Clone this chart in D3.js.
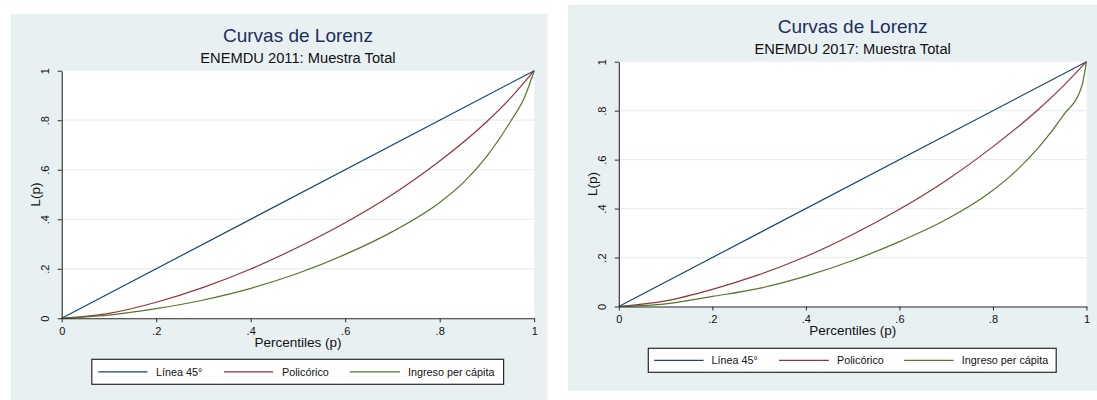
<!DOCTYPE html>
<html>
<head>
<meta charset="utf-8">
<script src="https://cdn.jsdelivr.net/npm/d3@7"></script>
<style>
  html, body { margin: 0; padding: 0; background: #ffffff; }
  svg { display: block; font-family: "Liberation Sans", Arial, Helvetica, sans-serif; }
</style>
</head>
<body>
<svg id="chart" width="1097" height="400"></svg>
<script>
// ---------- DATA ----------
const titleText = "Curvas de Lorenz";
const subtitles = ["ENEMDU 2011: Muestra Total", "ENEMDU 2017: Muestra Total"];
const xAxisTitle = "Percentiles (p)";
const yAxisTitle = "L(p)";
const tickValues = [0, 0.2, 0.4, 0.6, 0.8, 1];
const tickLabels = ["0", ".2", ".4", ".6", ".8", "1"];
const seriesNames = ["Línea 45°", "Policórico", "Ingreso per cápita"];

// Línea 45°
const p45 = [0, 1];
const L45 = [0, 1];

// 2011
const p2011Poli = [0, 0.1, 0.2, 0.3, 0.4, 0.5, 0.6, 0.7, 0.8, 0.9, 0.95, 1];
const L2011Poli = [0, 0.02, 0.065, 0.125, 0.199, 0.287, 0.386, 0.5, 0.635, 0.795, 0.89, 1];
const p2011Ing  = [0, 0.1, 0.2, 0.3, 0.4, 0.5, 0.6, 0.7, 0.8, 0.85, 0.9, 0.95, 0.98, 1];
const L2011Ing  = [0, 0.013, 0.039, 0.074, 0.121, 0.182, 0.258, 0.35, 0.468, 0.548, 0.655, 0.795, 0.895, 1];

// 2017
const p2017Poli = [0, 0.1, 0.2, 0.3, 0.4, 0.5, 0.6, 0.7, 0.8, 0.9, 0.95, 1];
const L2017Poli = [0, 0.023, 0.07, 0.13, 0.204, 0.294, 0.397, 0.515, 0.653, 0.81, 0.9, 1];
const p2017Ing  = [0, 0.1, 0.2, 0.3, 0.4, 0.5, 0.6, 0.7, 0.8, 0.85, 0.9, 0.95, 0.99, 1];
const L2017Ing  = [0, 0.011, 0.041, 0.074, 0.124, 0.188, 0.265, 0.355, 0.475, 0.555, 0.655, 0.78, 0.9, 1];

const colors = ["#1a476f", "#90353b", "#55752f"];
const bgColor = "#e8f0f2";
const gridColor = "#e6eef1";

// ---------- DRAW ----------
const svg = d3.select("#chart");
const zip = (ps, ls) => ps.map((p, i) => ({ p: p, L: ls[i] }));

function drawPanel(cfg) {
  const g = svg.append("g");
  g.append("rect").attr("x", cfg.bg[0]).attr("y", cfg.bg[1])
    .attr("width", cfg.bg[2] - cfg.bg[0]).attr("height", cfg.bg[3] - cfg.bg[1])
    .attr("fill", bgColor);

  const x = d3.scaleLinear().domain([0, 1]).range([cfg.x0, cfg.x1]);
  const y = d3.scaleLinear().domain([0, 1]).range([cfg.y0, cfg.y1]);

  g.append("rect").attr("x", cfg.x0).attr("y", cfg.y1)
    .attr("width", cfg.x1 - cfg.x0).attr("height", cfg.y0 - cfg.y1)
    .attr("fill", "#ffffff");

  g.selectAll(".grid").data(tickValues.slice(1, -1)).enter().append("line")
    .attr("x1", cfg.x0).attr("x2", cfg.x1)
    .attr("y1", d => y(d)).attr("y2", d => y(d))
    .attr("stroke", gridColor).attr("stroke-width", 1.2);

  const line = d3.line().x(d => x(d.p)).y(d => y(d.L)).curve(d3.curveMonotoneX);
  const series = [zip(p45, L45), zip(cfg.poliP, cfg.poliL), zip(cfg.ingP, cfg.ingL)];
  series.forEach((s, i) => {
    g.append("path").datum(s).attr("d", line)
      .attr("fill", "none").attr("stroke", colors[i]).attr("stroke-width", 1.2);
  });

  const fmt = d => tickLabels[tickValues.indexOf(d)];
  const yAxis = g.append("g").attr("transform", `translate(${cfg.x0},0)`)
    .call(d3.axisLeft(y).tickValues(tickValues).tickFormat(fmt).tickSize(4).tickSizeOuter(0));
  const xAxis = g.append("g").attr("transform", `translate(0,${cfg.y0})`)
    .call(d3.axisBottom(x).tickValues(tickValues).tickFormat(fmt).tickSize(4).tickSizeOuter(0));
  [xAxis, yAxis].forEach(a => {
    a.select(".domain").attr("stroke", "#2a2a2a").attr("stroke-width", 1.1);
    a.selectAll(".tick line").attr("stroke", "#2a2a2a").attr("stroke-width", 1);
    a.selectAll("text").attr("fill", "#111").style("font-size", "11px")
      .style("font-family", '"Liberation Sans", Arial, sans-serif');
  });
  yAxis.selectAll(".tick text")
    .attr("x", 0).attr("y", 0).attr("dy", null)
    .attr("text-anchor", "middle")
    .attr("transform", "translate(-12.5,0) rotate(-90)");
  xAxis.selectAll(".tick text").attr("y", 9).attr("dy", "0.71em");

  const cx = (cfg.x0 + cfg.x1) / 2;
  g.append("text").attr("x", cx).attr("y", cfg.y1 - 28.3)
    .attr("text-anchor", "middle").attr("fill", "#1c2f5e")
    .style("font-size", "19px").text(titleText);
  g.append("text").attr("x", cx).attr("y", cfg.y1 - 7.4)
    .attr("text-anchor", "middle").attr("fill", "#111")
    .style("font-size", "14.7px").text(cfg.subtitle);
  g.append("text").attr("x", cx).attr("y", cfg.y0 + 28.8)
    .attr("text-anchor", "middle").attr("fill", "#111")
    .style("font-size", "13.5px").text(xAxisTitle);
  g.append("text").attr("transform", `translate(${cfg.x0 - 22},${(cfg.y0 + cfg.y1) / 2}) rotate(-90)`)
    .attr("text-anchor", "middle").attr("fill", "#111")
    .style("font-size", "13.5px").text(yAxisTitle);

  const lg = cfg.legend;
  g.append("rect").attr("x", lg.x).attr("y", lg.y).attr("width", lg.w).attr("height", lg.h)
    .attr("fill", "#ffffff").attr("stroke", "#2a2a2a").attr("stroke-width", 1.2);
  const ly = lg.y + lg.h / 2;
  seriesNames.forEach((name, i) => {
    g.append("line").attr("x1", lg.items[i][0]).attr("x2", lg.items[i][1])
      .attr("y1", ly).attr("y2", ly).attr("stroke", colors[i]).attr("stroke-width", 1.2);
    g.append("text").attr("x", lg.items[i][2]).attr("y", ly + 3.8)
      .attr("fill", "#111").style("font-size", "10.8px").text(name);
  });
}

drawPanel({
  bg: [10.7, 14, 547.5, 400],
  x0: 61.7, x1: 534.2, y0: 318.3, y1: 70.7,
  subtitle: subtitles[0],
  poliP: p2011Poli, poliL: L2011Poli, ingP: p2011Ing, ingL: L2011Ing,
  legend: { x: 91.8, y: 359.3, w: 411.8, h: 25,
            items: [[98.2, 147.5, 156], [224, 273, 282], [350, 400, 408]] }
});

drawPanel({
  bg: [568, 5, 1097, 390.7],
  x0: 618.8, x1: 1086.5, y0: 306.5, y1: 61.7,
  subtitle: subtitles[1],
  poliP: p2017Poli, poliL: L2017Poli, ingP: p2017Ing, ingL: L2017Ing,
  legend: { x: 648.3, y: 348.3, w: 407.9, h: 24,
            items: [[654.2, 703.6, 711.6], [779, 828.8, 837], [904.1, 953.5, 961.8]] }
});
</script>
</body>
</html>
